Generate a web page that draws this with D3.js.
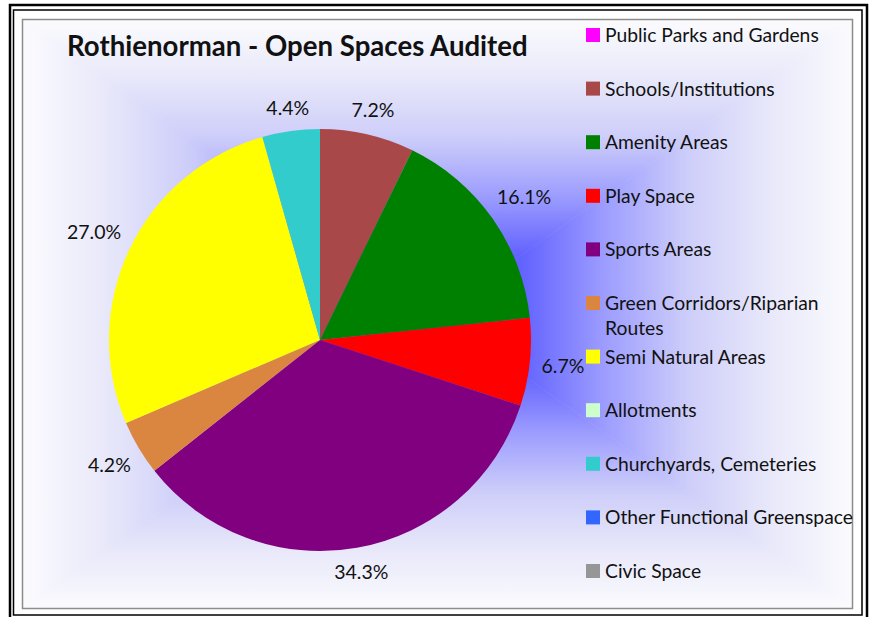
<!DOCTYPE html>
<html>
<head>
<meta charset="utf-8">
<script src="https://cdn.jsdelivr.net/npm/d3@7"></script>
<style>
  html, body { margin: 0; padding: 0; background: #ffffff; }
  svg { display: block; }
  text { font-family: Lato, "Open Sans", sans-serif; fill: #111111; }
</style>
</head>
<body>
<svg id="chart"></svg>
<script>
// Data (percent of audited area)
let categories = [
  "Public Parks and Gardens",
  "Schools/Institutions",
  "Amenity Areas",
  "Play Space",
  "Sports Areas",
  "Green Corridors/Riparian Routes",
  "Semi Natural Areas",
  "Allotments",
  "Churchyards, Cemeteries",
  "Other Functional Greenspace",
  "Civic Space"
];
let values = [0, 7.2, 16.1, 6.7, 34.3, 4.2, 27.0, 0, 4.4, 0, 0];
let colors = [
  "#ff00ff", "#a84848", "#008000", "#ff0000", "#800080",
  "#da8640", "#ffff00", "#ccffcc", "#33cccc", "#3366ff", "#969696"
];
let title = "Rothienorman - Open Spaces Audited";

let width = 872;
let height = 617;

let svg = d3.select('#chart')
    .attr('width', width)
    .attr('height', height);

// Frame
svg.append('rect')
    .attr('x', 10).attr('y', 5)
    .attr('width', 857).attr('height', 615)
    .style('fill', 'none')
    .style('stroke', '#000')
    .style('stroke-width', '2.5px');
svg.append('rect')
    .attr('x', 13.5).attr('y', 10)
    .attr('width', 848.5).attr('height', 605)
    .style('fill', 'none')
    .style('stroke', '#000')
    .style('stroke-width', '1.5px');

// Chart area with a rectangular "from centre" gradient
let area = { x0: 23, y0: 20, x1: 853, y1: 609 };
let cx = (area.x0 + area.x1) / 2;
let cy = (area.y0 + area.y1) / 2;

let stops = [
  [0, '#4444ff'], [0.2, '#6262ff'], [0.4, '#9c9cff'],
  [0.6, '#cdcdfa'], [0.8, '#e8e8fa'], [1, '#fbfbfe']
];

let defs = svg.append('defs');
let sides = [
  { id: 'gTop', x2: cx, y2: area.y0, pts: [[cx, cy], [area.x0, area.y0], [area.x1, area.y0]] },
  { id: 'gRight', x2: area.x1, y2: cy, pts: [[cx, cy], [area.x1, area.y0], [area.x1, area.y1]] },
  { id: 'gBottom', x2: cx, y2: area.y1, pts: [[cx, cy], [area.x1, area.y1], [area.x0, area.y1]] },
  { id: 'gLeft', x2: area.x0, y2: cy, pts: [[cx, cy], [area.x0, area.y1], [area.x0, area.y0]] }
];

sides.forEach(s => {
  let g = defs.append('linearGradient')
      .attr('id', s.id)
      .attr('gradientUnits', 'userSpaceOnUse')
      .attr('x1', cx).attr('y1', cy)
      .attr('x2', s.x2).attr('y2', s.y2);
  g.selectAll('stop')
      .data(stops)
    .enter().append('stop')
      .attr('offset', d => d[0])
      .attr('stop-color', d => d[1]);
  svg.append('path')
      .attr('d', 'M' + s.pts.map(p => p.join(',')).join('L') + 'Z')
      .style('fill', `url(#${s.id})`)
      .style('stroke', `url(#${s.id})`)
      .style('stroke-width', '0.6px');
});

svg.append('rect')
    .attr('x', area.x0 - 0.5).attr('y', area.y0 - 0.5)
    .attr('width', area.x1 - area.x0).attr('height', area.y1 - area.y0)
    .style('fill', 'none')
    .style('stroke', '#8c8c8c')
    .style('stroke-width', '1.5px');

// Title
svg.append('text')
    .attr('x', 67)
    .attr('y', 56)
    .style('font-size', '27.6px')
    .style('font-weight', 'bold')
    .text(title);

// Pie
let radius = 211;
let pieG = svg.append('g')
    .attr('transform', 'translate(320,340)');

let data = categories.map((c, i) => ({ name: c, value: values[i], color: colors[i] }));

let pie = d3.pie()
    .sort(null)
    .value(d => d.value);

let arcs = pie(data).filter(d => d.data.value > 0);

let arc = d3.arc()
    .innerRadius(0)
    .outerRadius(radius);

pieG.selectAll('path')
    .data(arcs)
  .enter().append('path')
    .attr('d', arc)
    .style('fill', d => d.data.color);

let format = d3.format('.1f');

// Labels sit outside the pie, their box kept a small gap off the edge
let gap = 11;
pieG.selectAll('text.label')
    .data(arcs)
  .enter().append('text')
    .attr('class', 'label')
    .attr('text-anchor', 'middle')
    .attr('dy', '0.35em')
    .style('font-size', '19.5px')
    .text(d => format(d.data.value) + '%')
    .attr('transform', function(d) {
      let a = (d.startAngle + d.endAngle) / 2;
      let hw = this.getComputedTextLength() / 2;
      let hh = 9;
      let r = radius + gap + hw * Math.abs(Math.sin(a)) + hh * Math.abs(Math.cos(a));
      return `translate(${d3.arc().innerRadius(r).outerRadius(r).centroid(d)})`;
    });

// Legend
let legendY = d3.scalePoint()
    .domain(categories)
    .range([28, 564]);

let legend = svg.append('g');

let items = legend.selectAll('g')
    .data(data)
  .enter().append('g')
    .attr('transform', d => `translate(586,${legendY(d.name)})`);

items.append('rect')
    .attr('width', 14)
    .attr('height', 14)
    .style('fill', d => d.color);

items.append('text')
    .attr('x', 19)
    .attr('y', 14)
    .style('font-size', '19.3px')
    .each(function(d) {
      // wrap long names onto a second line
      let el = d3.select(this);
      let words = d.name.split(' ');
      let line = [];
      let tspan = el.append('tspan').attr('x', 19).attr('dy', 0);
      words.forEach(w => {
        line.push(w);
        tspan.text(line.join(' '));
        if (tspan.node().getComputedTextLength() > 258 && line.length > 1) {
          line.pop();
          tspan.text(line.join(' '));
          line = [w];
          tspan = el.append('tspan').attr('x', 19).attr('dy', 25).text(w);
        }
      });
    });
</script>
</body>
</html>
